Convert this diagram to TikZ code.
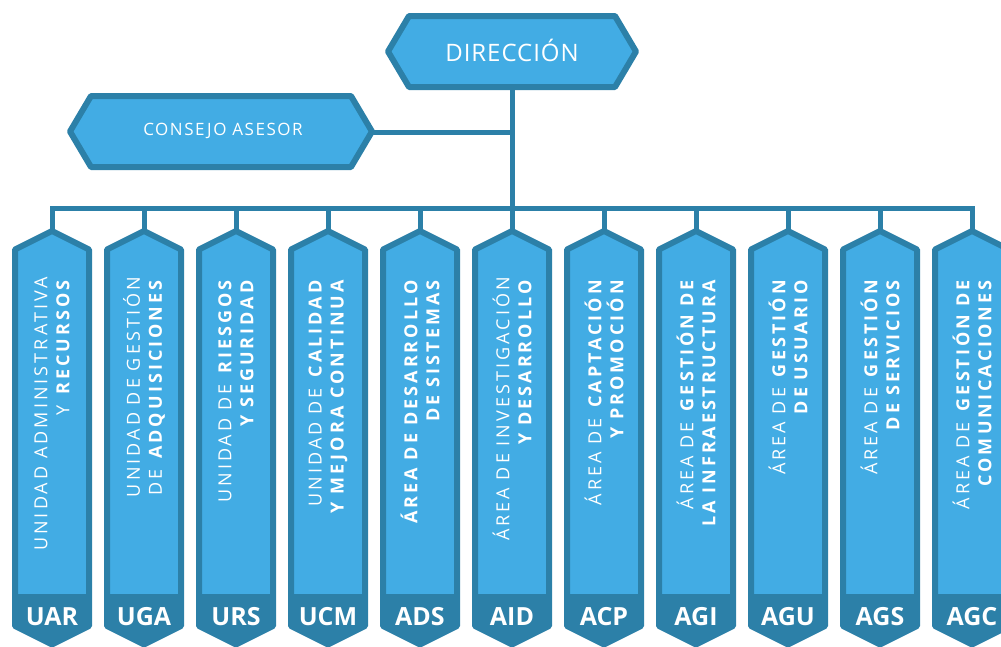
\documentclass[tikz,border=0pt]{standalone}
\usepackage{fontspec}
\setmainfont{Open Sans}
\newfontfamily\colfont[LetterSpace=17]{Open Sans}
\newfontfamily\hdfont[LetterSpace=4]{Open Sans}
\newfontfamily\csfont[LetterSpace=9]{Open Sans}
\definecolor{lb}{HTML}{42ACE4}
\definecolor{db}{HTML}{2C80A8}
\tikzset{
  boxshape/.style={fill=lb, draw=db, line width=6pt, line join=round},
  conn/.style={draw=db, line width=5pt, line join=miter},
  coltext/.style={rotate=90, anchor=east, inner sep=0pt, align=right, text=white, font=\colfont\fontsize{18}{22}\selectfont},
  abbr/.style={text=white, inner sep=0pt, font=\bfseries\fontsize{25}{25}\selectfont},
  hdtext/.style={text=white, inner sep=0pt},
}
\begin{document}
\begin{tikzpicture}[x=1pt,y=-1pt]
\useasboundingbox (0,0) rectangle (1001,646);
% named points
\coordinate (dirbot) at (512,88);
\coordinate (consright) at (373,132);
\foreach \i in {1,...,11}{
  \pgfmathsetmacro\c{52+(\i-1)*92}
  \coordinate (top\i) at (\c,232);
  \coordinate (bus\i) at (\c,208);
}
% connectors
\draw[conn] (dirbot) -- (bus6);
\draw[conn] (consright) -- (dirbot |- consright);
\draw[conn] (top1) -- (bus1) -- (bus11) -- (top11);
\foreach \i in {2,...,10}{ \draw[conn] (bus\i) -- (top\i); }
% Direccion
\draw[boxshape] (388,51.5) -- (409,16) -- (615,16) -- (636,51.5) -- (615,87) -- (409,87) -- cycle;
\node[hdtext, font=\hdfont\fontsize{24}{24}\selectfont] (dir) at (512,50) {DIRECCIÓN};
% Consejo
\draw[boxshape] (70,131.5) -- (91,96) -- (351,96) -- (372,131.5) -- (351,167) -- (91,167) -- cycle;
\node[hdtext, font=\csfont\fontsize{17}{17}\selectfont] (cons) at (223,131) {CONSEJO ASESOR};
% columns
\foreach \i/\ab/\la/\lbb in {
 1/UAR/{UNIDAD ADMINISTRATIVA}/{Y \textbf{RECURSOS}},
 2/UGA/{UNIDAD DE GESTIÓN}/{DE \textbf{ADQUISICIONES}},
 3/URS/{UNIDAD DE \textbf{RIESGOS}}/{\textbf{Y SEGURIDAD}},
 4/UCM/{UNIDAD DE \textbf{CALIDAD}}/{\textbf{Y MEJORA CONTINUA}},
 5/ADS/{\textbf{ÁREA DE DESARROLLO}}/{\textbf{DE SISTEMAS}},
 6/AID/{ÁREA DE INVESTIGACIÓN}/{\textbf{Y DESARROLLO}},
 7/ACP/{ÁREA DE \textbf{CAPTACIÓN}}/{\textbf{Y PROMOCIÓN}},
 8/AGI/{ÁREA DE \textbf{GESTIÓN DE}}/{\textbf{LA INFRAESTRUCTURA}},
 9/AGU/{ÁREA DE \textbf{GESTIÓN}}/{\textbf{DE USUARIO}},
 10/AGS/{ÁREA DE \textbf{GESTIÓN}}/{\textbf{DE SERVICIOS}},
 11/AGC/{ÁREA DE \textbf{GESTIÓN DE}}/{\textbf{COMUNICACIONES}}}{
  \pgfmathsetmacro\c{52+(\i-1)*92}
  \draw[boxshape] (\c,231) -- (\c+37,249.5) -- (\c+37,626) -- (\c,644.5) -- (\c-37,626) -- (\c-37,249.5) -- cycle;
  \fill[db] (\c-37,594) -- (\c+37,594) -- (\c+37,626) -- (\c,644.5) -- (\c-37,626) -- cycle;
  \node[coltext] (txt\i) at (\c,277) {\la\\\lbb};
  \node[abbr] (ab\i) at (\c,617) {\ab};
}
\end{tikzpicture}
\end{document}
